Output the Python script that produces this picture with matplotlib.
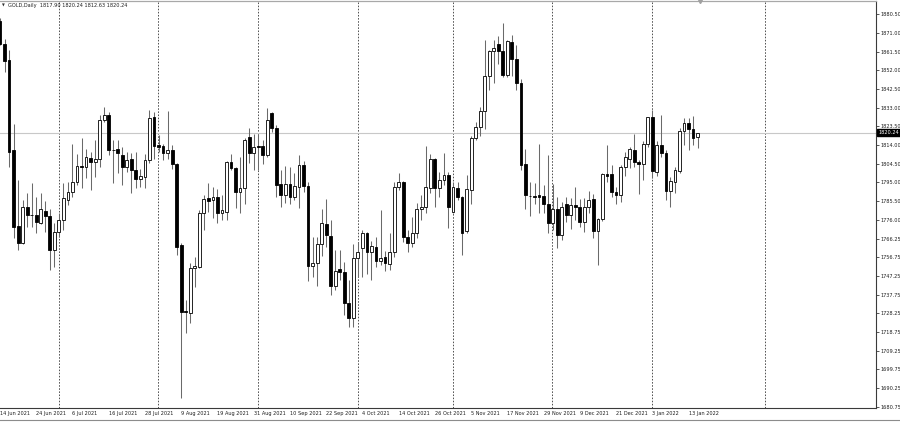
import matplotlib
matplotlib.use("Agg")
import matplotlib.pyplot as plt
import matplotlib.transforms as mtransforms
from matplotlib import font_manager
from matplotlib.lines import Line2D

# ---------------- data (GOLD, Daily) ----------------
opens = [1877.1, 1865.6, 1857.4, 1811.4, 1772.7, 1763.9, 1782.5, 1778.6, 1778.3, 1774.4,
         1780.5, 1777.8, 1760.5, 1769.8, 1775.8, 1786.0, 1790.2, 1795.2, 1803.2, 1802.9,
         1807.5, 1805.4, 1807.1, 1826.9, 1829.1, 1811.7, 1812.2, 1808.8, 1802.9, 1807.0,
         1801.5, 1796.6, 1797.8, 1806.3, 1828.0, 1814.0, 1813.6, 1809.7, 1811.4, 1804.2,
         1763.0, 1729.5, 1728.6, 1751.2, 1752.1, 1779.2, 1786.8, 1785.9, 1787.3, 1779.5,
         1780.0, 1805.1, 1802.4, 1790.2, 1791.9, 1818.1, 1809.7, 1813.6, 1813.6, 1808.8,
         1830.3, 1822.7, 1793.9, 1788.5, 1793.9, 1787.6, 1792.7, 1804.0, 1793.0, 1752.6,
         1753.7, 1763.4, 1773.7, 1767.8, 1742.2, 1750.7, 1749.5, 1733.4, 1725.8, 1756.3,
         1761.4, 1769.3, 1759.3, 1762.2, 1755.1, 1756.8, 1753.2, 1759.7, 1792.4, 1795.2,
         1766.9, 1763.9, 1769.0, 1781.2, 1782.2, 1791.9, 1807.1, 1791.9, 1796.1, 1798.6,
         1780.0, 1791.9, 1787.3, 1770.3, 1791.0, 1817.8, 1823.2, 1831.2, 1849.0, 1861.9,
         1865.6, 1861.9, 1849.5, 1866.4, 1858.0, 1845.6, 1804.1, 1788.2, 1788.0, 1788.5,
         1788.0, 1783.9, 1774.1, 1781.2, 1768.2, 1784.2, 1778.3, 1783.4, 1782.2, 1774.9,
         1782.2, 1786.3, 1770.3, 1776.1, 1799.1, 1799.1, 1790.2, 1788.5, 1802.9, 1807.1,
         1811.4, 1805.4, 1804.2, 1814.4, 1828.3, 1800.4, 1813.9, 1810.0, 1790.5, 1795.0,
         1800.8, 1821.0, 1825.4, 1821.9, 1817.90]
highs = [1878.5, 1868.1, 1862.5, 1824.6, 1796.1, 1785.9, 1789.3, 1794.4, 1787.6, 1789.6,
         1785.4, 1781.2, 1774.4, 1779.2, 1794.4, 1795.2, 1814.4, 1809.3, 1817.8, 1812.2,
         1810.5, 1816.4, 1829.1, 1833.4, 1830.8, 1816.7, 1816.4, 1813.1, 1810.5, 1809.7,
         1810.5, 1802.0, 1809.3, 1832.0, 1830.8, 1819.0, 1814.4, 1831.2, 1813.9, 1804.6,
         1764.2, 1735.1, 1753.7, 1757.1, 1780.9, 1788.5, 1794.7, 1792.7, 1791.4, 1788.5,
         1806.0, 1809.3, 1802.9, 1808.0, 1817.3, 1822.7, 1819.8, 1819.8, 1816.4, 1833.0,
         1830.8, 1824.1, 1801.2, 1803.2, 1802.9, 1799.5, 1808.8, 1805.9, 1795.2, 1766.9,
         1766.9, 1781.2, 1786.3, 1775.8, 1760.5, 1760.5, 1754.6, 1745.3, 1763.6, 1764.8,
         1770.7, 1769.5, 1765.3, 1766.9, 1780.9, 1760.1, 1769.0, 1795.2, 1799.8, 1795.6,
         1770.7, 1777.5, 1784.6, 1788.5, 1813.4, 1809.3, 1807.6, 1800.3, 1809.7, 1800.0,
         1795.2, 1795.2, 1788.0, 1798.6, 1818.5, 1825.8, 1833.4, 1867.6, 1862.5, 1867.6,
         1869.3, 1876.1, 1867.6, 1869.8, 1864.7, 1847.8, 1811.7, 1795.2, 1794.7, 1814.7,
         1793.6, 1808.8, 1794.0, 1787.6, 1785.1, 1787.6, 1786.8, 1792.4, 1786.3, 1786.8,
         1790.7, 1789.0, 1777.0, 1799.5, 1813.9, 1803.7, 1792.7, 1803.7, 1810.5, 1813.1,
         1819.8, 1806.3, 1816.1, 1828.3, 1832.0, 1816.1, 1829.1, 1811.4, 1797.8, 1802.9,
         1822.4, 1827.5, 1827.5, 1828.6, 1820.24]
lows = [1864.8, 1851.2, 1802.9, 1766.5, 1760.5, 1763.4, 1772.4, 1772.4, 1769.0, 1773.7,
        1769.8, 1750.4, 1752.1, 1767.3, 1770.7, 1783.4, 1787.6, 1793.6, 1791.9, 1797.0,
        1791.0, 1797.8, 1802.9, 1825.8, 1808.8, 1794.4, 1799.5, 1793.6, 1800.4, 1789.3,
        1792.2, 1792.7, 1791.9, 1804.6, 1807.1, 1810.5, 1806.3, 1806.8, 1802.0, 1758.0,
        1685.1, 1718.1, 1723.2, 1741.9, 1751.2, 1770.7, 1780.0, 1776.6, 1774.1, 1775.8,
        1775.8, 1801.2, 1781.7, 1779.5, 1784.2, 1804.6, 1801.2, 1801.2, 1804.2, 1808.0,
        1820.7, 1787.6, 1782.5, 1784.6, 1784.2, 1785.9, 1781.7, 1790.2, 1744.7, 1747.0,
        1742.2, 1757.5, 1762.2, 1737.6, 1740.2, 1745.3, 1727.5, 1721.2, 1721.5, 1747.0,
        1747.0, 1748.3, 1745.3, 1752.0, 1752.9, 1750.0, 1750.3, 1757.1, 1791.0, 1764.8,
        1759.7, 1762.2, 1766.5, 1775.8, 1779.2, 1789.3, 1782.2, 1787.6, 1793.6, 1771.5,
        1779.2, 1785.9, 1758.0, 1769.3, 1784.2, 1816.4, 1818.5, 1821.9, 1842.2, 1845.3,
        1855.4, 1848.6, 1848.6, 1849.0, 1841.9, 1801.5, 1781.2, 1777.8, 1783.9, 1779.5,
        1779.2, 1769.0, 1770.7, 1761.4, 1765.6, 1774.9, 1771.0, 1775.8, 1772.4, 1769.8,
        1779.2, 1766.5, 1752.9, 1775.4, 1795.2, 1787.6, 1783.9, 1785.1, 1798.1, 1802.5,
        1802.9, 1789.0, 1796.1, 1813.0, 1797.0, 1798.1, 1808.0, 1785.9, 1782.2, 1789.6,
        1799.5, 1813.9, 1811.4, 1813.9, 1812.63]
closes = [1865.6, 1856.6, 1810.5, 1772.4, 1763.9, 1782.5, 1778.3, 1778.3, 1774.9, 1781.2,
          1777.8, 1760.5, 1769.8, 1775.8, 1786.8, 1790.2, 1795.2, 1803.2, 1802.8, 1808.0,
          1805.4, 1807.1, 1826.6, 1829.1, 1811.4, 1811.4, 1810.0, 1802.9, 1806.3, 1801.2,
          1796.6, 1798.3, 1806.6, 1827.5, 1813.4, 1813.0, 1810.0, 1811.4, 1804.2, 1762.2,
          1729.2, 1728.8, 1751.2, 1752.4, 1779.2, 1786.3, 1785.6, 1787.3, 1779.5, 1780.9,
          1805.1, 1802.4, 1790.2, 1791.9, 1816.4, 1809.7, 1813.1, 1813.1, 1808.8, 1826.9,
          1822.4, 1793.6, 1788.5, 1793.9, 1787.6, 1793.0, 1803.7, 1793.0, 1752.6, 1754.1,
          1763.4, 1774.1, 1768.2, 1742.2, 1750.0, 1749.5, 1733.4, 1725.8, 1756.3, 1759.7,
          1769.4, 1759.3, 1762.5, 1755.1, 1756.6, 1753.7, 1759.3, 1792.4, 1795.2, 1766.9,
          1764.2, 1769.0, 1781.2, 1782.5, 1792.4, 1807.1, 1791.9, 1796.4, 1798.6, 1782.5,
          1792.4, 1787.6, 1769.0, 1791.4, 1817.8, 1823.2, 1831.2, 1849.0, 1861.9, 1863.5,
          1861.9, 1849.5, 1866.9, 1858.0, 1845.6, 1803.7, 1788.5, 1787.8, 1787.8, 1787.3,
          1783.9, 1774.1, 1781.2, 1768.2, 1782.5, 1778.3, 1783.4, 1782.5, 1774.9, 1782.2,
          1785.9, 1770.3, 1776.1, 1799.1, 1798.3, 1790.2, 1788.5, 1802.9, 1808.0, 1811.7,
          1805.4, 1804.2, 1814.4, 1828.0, 1800.8, 1813.9, 1809.7, 1790.5, 1795.6, 1801.2,
          1821.0, 1825.4, 1821.9, 1817.3, 1820.24]

date_labels = ["14 Jun 2021", "24 Jun 2021", "6 Jul 2021", "16 Jul 2021", "28 Jul 2021",
               "9 Aug 2021", "19 Aug 2021", "31 Aug 2021", "10 Sep 2021", "22 Sep 2021",
               "4 Oct 2021", "14 Oct 2021", "26 Oct 2021", "5 Nov 2021", "17 Nov 2021",
               "29 Nov 2021", "9 Dec 2021", "21 Dec 2021", "3 Jan 2022", "13 Jan 2022"]
label_step = 8
separator_bars = [13, 35, 57, 79, 100, 122, 144, 169]
price_ticks = [1880.50, 1871.00, 1861.50, 1852.00, 1842.50, 1833.00, 1823.50, 1814.00,
               1804.50, 1795.00, 1785.50, 1776.00, 1766.25, 1756.75, 1747.25, 1737.75,
               1728.25, 1718.75, 1709.25, 1699.75, 1690.25, 1680.75]
symbol_title = "GOLD,Daily"
last_price = closes[-1]

# ---------------- style ----------------
names = {f.name for f in font_manager.fontManager.ttflist}
FONT = "Liberation Sans Narrow" if "Liberation Sans Narrow" in names else "DejaVu Sans"
FS = 4.6 if FONT == "Liberation Sans Narrow" else 3.6
TXT = "#1e1e1e"
plt.rcParams["font.family"] = [FONT, "DejaVu Sans"]

W, H = 900, 422
fig = plt.figure(figsize=(W / 100, H / 100), dpi=100)
fig.patch.set_facecolor("white")
ax = fig.add_axes([0, 1 - 408 / H, 876 / W, 407 / H])
ax.set_facecolor("white")

px_per_bar = 4.53
ax.set_xlim(0, 876 / px_per_bar)
ax.set_ylim(1680.1, 1887.3)

n = len(closes)
idx = list(range(n))

# period separators
for s in separator_bars:
    ax.axvline(s - 0.05, color="#505050", lw=0.7, ls=(0, (1.6, 1.6)), zorder=1)

# current price line
ax.axhline(last_price, color="#c8c8c8", lw=0.8, zorder=1)

# wicks
ax.vlines(idx, lows, highs, color="#6a6a6a", lw=0.75, zorder=2)

# bodies
bw = 0.62
for i in idx:
    o, c = opens[i], closes[i]
    lo, hi = min(o, c), max(o, c)
    h = max(hi - lo, 0.35)
    fc = "white" if c >= o else "black"
    ax.bar(i, h, bottom=lo if hi - lo >= 0.35 else lo - 0.17, width=bw,
           facecolor=fc, edgecolor="black", linewidth=0.6, zorder=3)

# axes styling
for side in ["left"]:
    ax.spines[side].set_visible(False)
ax.spines["top"].set_color("#a8a8a8")
ax.spines["top"].set_linewidth(0.9)
ax.spines["right"].set_color("#3a3a3a")
ax.spines["right"].set_linewidth(0.8)
ax.spines["bottom"].set_color("#3a3a3a")
ax.spines["bottom"].set_linewidth(0.8)

ax.yaxis.tick_right()
ax.set_yticks(price_ticks)
ax.set_yticklabels([f"{p:.2f}" for p in price_ticks])
ax.tick_params(axis="y", which="both", direction="out", length=2.2, width=0.6,
               color="#3a3a3a", pad=1.2, labelsize=FS, labelcolor=TXT)

xt = [k * label_step for k in range(len(date_labels))]
ax.set_xticks(xt)
ax.set_xticklabels(date_labels, ha="left")
ax.tick_params(axis="x", direction="out", length=0, pad=2.5, labelsize=FS,
               labelcolor=TXT)

# current price tag
tr = mtransforms.blended_transform_factory(ax.transAxes, ax.transData)
ax.text(1.0 + 2.5 / 876, last_price, f"{last_price:.2f}", transform=tr,
        ha="left", va="center", fontsize=FS, color="white", clip_on=False,
        bbox=dict(boxstyle="square,pad=0.25", facecolor="black", edgecolor="black"),
        zorder=6)

# chart shift marker at the top
ax.plot([700 / px_per_bar], [1887.3], marker="v", ms=3, color="#a0a0a0",
        clip_on=False, zorder=5)

# title
fig.text(2 / W, 1 - 5.8 / H, "\u25bc", fontsize=2.6, color="#303030",
         va="center", ha="left", family="DejaVu Sans")
fig.text(8 / W, 1 - 5.8 / H,
         f"{symbol_title}  {opens[-1]:.2f} {highs[-1]:.2f} {lows[-1]:.2f} {closes[-1]:.2f}",
         fontsize=FS, color=TXT, va="center", ha="left")

# window bottom line
fig.add_artist(Line2D([0, 1], [1 - 419.5 / H, 1 - 419.5 / H], transform=fig.transFigure,
                      color="#8c8c8c", lw=0.8))

fig.savefig("out.png", dpi=100, facecolor="white")
